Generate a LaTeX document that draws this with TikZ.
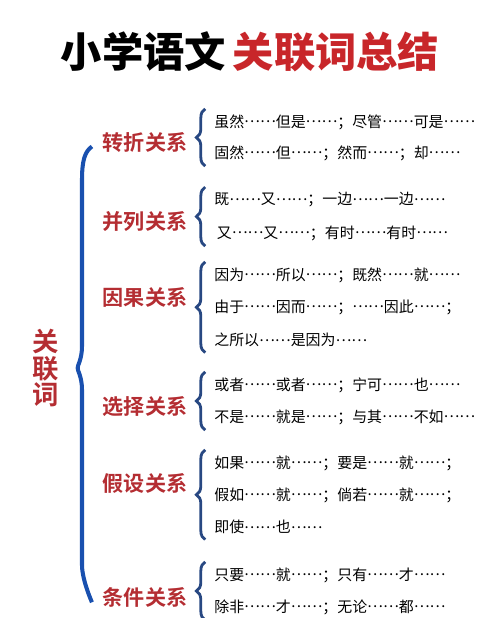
\documentclass[tikz,border=0pt]{standalone}
\usepackage{fontspec}
\setmainfont{Noto Sans CJK SC}
\newfontfamily\cjkblack{Noto Sans CJK SC Black}
\newfontfamily\cjkbold{Noto Sans CJK SC Bold}
\usetikzlibrary{decorations.pathreplacing}
\definecolor{titlered}{RGB}{200,38,42}
\definecolor{labred}{RGB}{180,45,50}
\definecolor{braceblue}{RGB}{25,80,175}
\definecolor{smallblue}{RGB}{40,72,130}
\newcommand\dd{\raisebox{0.3em}{……}}
\tikzset{
    item/.style={anchor=west, inner sep=0pt, font=\fontsize{8.5}{10}\selectfont},
    kind/.style={text=labred, inner sep=0pt, font=\cjkbold\fontsize{12}{14}\selectfont},
    sbrace/.style={draw=smallblue, line width=1.6pt, decorate, decoration={brace, amplitude=5pt}},
}
\begin{document}
\begin{tikzpicture}[x=0.02cm, y=-0.02cm]
    \useasboundingbox (0,0) rectangle (500,618);
    \node[font=\cjkblack\fontsize{23.5}{26}\selectfont] (title) at (250,52) {小学语文\,\textcolor{titlered}{关联词总结}};
    \node[text=labred, font=\cjkbold\fontsize{15}{16}\selectfont, align=center] (root) at (46,368) {关\\[-1pt]联\\[-1pt]词};
    % categories
    \foreach \n/\y/\t in {c1/143/转折关系, c2/222/并列关系, c3/297/因果关系, c4/407/选择关系, c5/483/假设关系, c6/597/条件关系} {
        \node[kind] (\n) at (145,\y) {\t};
    }
    % word pairs
    \foreach \n/\y/\t in {
        a1/122/虽然\dd 但是\dd ；尽管\dd 可是\dd, a2/153/固然\dd 但\dd ；然而\dd ；却\dd,
        b1/200/既\dd 又\dd ；一边\dd 一边\dd, b2/233/\,又\dd 又\dd ；有时\dd 有时\dd,
        d1/275/因为\dd 所以\dd ；既然\dd 就\dd, d2/307/由于\dd 因而\dd ；\dd 因此\dd ；, d3/340/之所以\dd 是因为\dd,
        e1/385/或者\dd 或者\dd ；宁可\dd 也\dd, e2/417/不是\dd 就是\dd ；与其\dd 不如\dd,
        f1/463/如果\dd 就\dd ；要是\dd 就\dd ；, f2/495/假如\dd 就\dd ；倘若\dd 就\dd ；, f3/527/即使\dd 也\dd,
        g1/575/只要\dd 就\dd ；只有\dd 才\dd, g2/607/除非\dd 才\dd ；无论\dd 都\dd} {
        \node[item] (\n) at (214,\y) {\t};
    }
    \foreach \a/\b in {a1/a2, b1/b2, d1/d3, e1/e2, f1/f3, g1/g2} {
        \draw[sbrace] ([xshift=-5pt,yshift=-3pt]\b.south west) -- ([xshift=-5pt,yshift=3pt]\a.north west);
    }
    % big brace
    \coordinate (top) at ([xshift=-6pt,yshift=-2pt]c1.west);
    \coordinate (tip) at ([xshift=7pt]root.east);
    \coordinate (bot) at ([xshift=-6pt,yshift=-3pt]c6.west);
    \draw[braceblue, line width=2.3pt] (top) .. controls +(-7,5) and (82,160) .. (82,180) -- (82,346)
        .. controls (82,360) and (77,366) .. (tip) .. controls (77,370) and (82,376) .. (82,390)
        -- (82,565) .. controls (82,580) and (top |- bot) .. (bot);
\end{tikzpicture}
\end{document}
